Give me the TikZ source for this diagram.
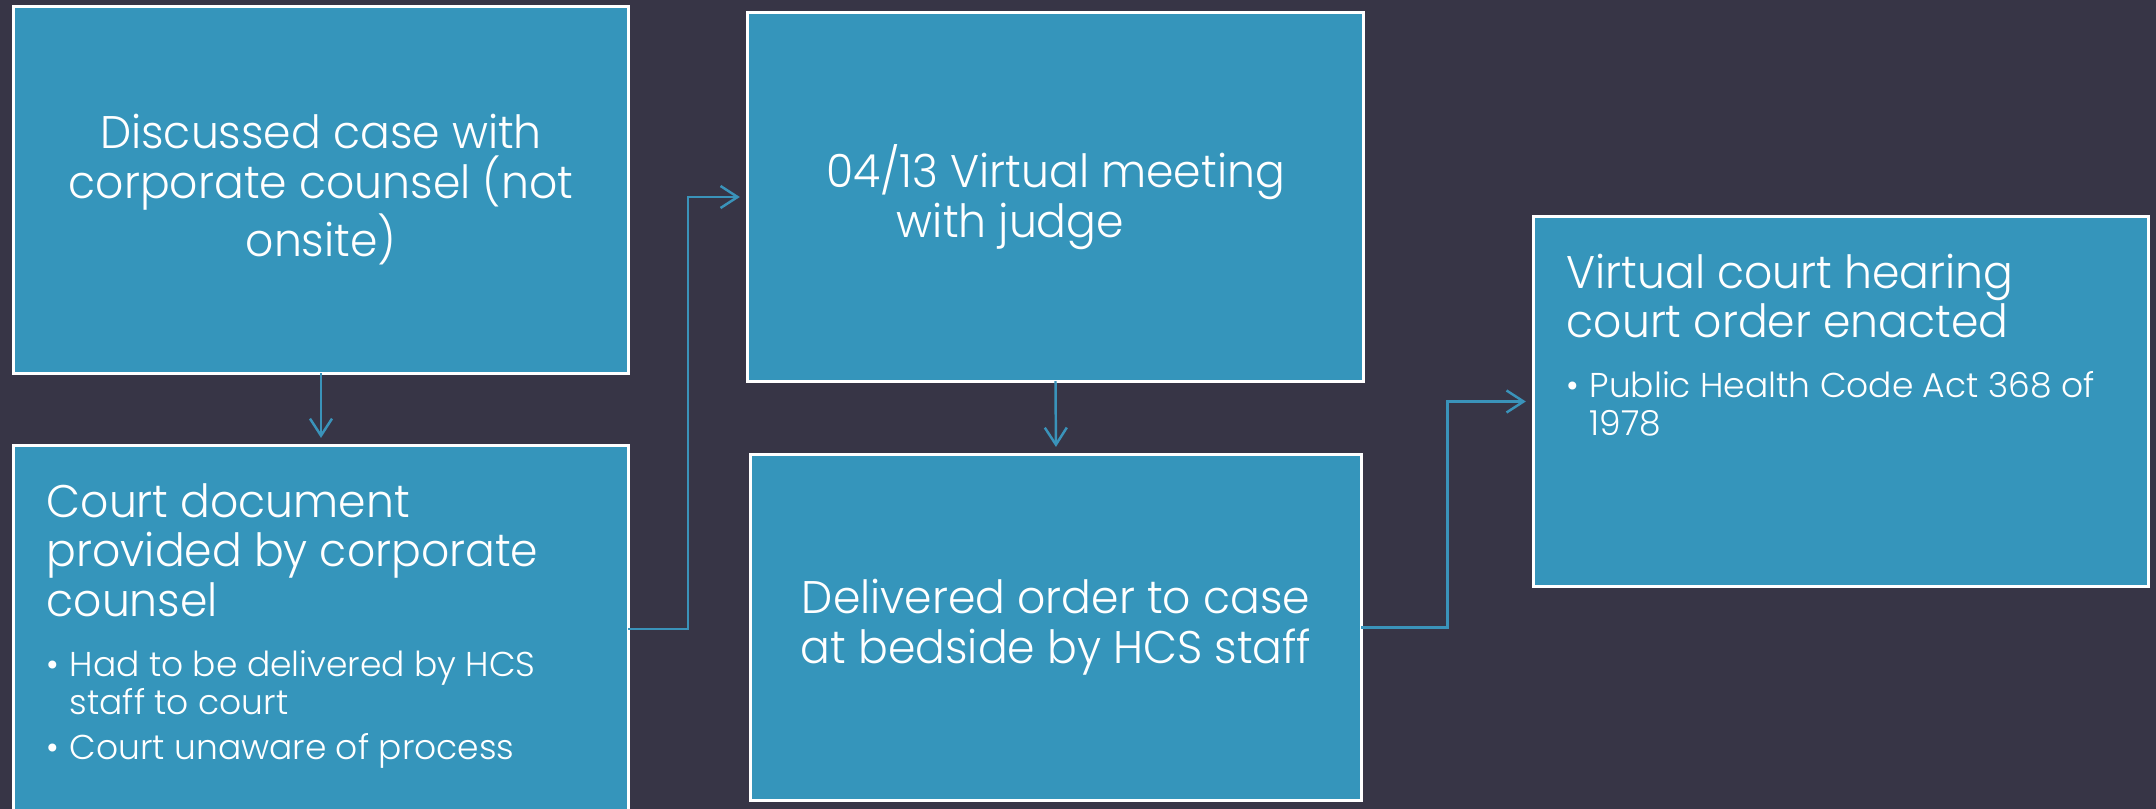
\documentclass[tikz,border=0pt]{standalone}
\usepackage{fontspec}
\setmainfont{Poppins}[UprightFont=* Light]
\newfontfamily\headfamily{Poppins}[UprightFont=* Light, FakeStretch=0.965]
\usetikzlibrary{arrows.meta,calc}
\definecolor{slidebg}{HTML}{373546}
\definecolor{cardblue}{HTML}{3595BB}
\definecolor{linkblue}{HTML}{3A93BA}
\newcommand{\headfont}{\headfamily\fontsize{13}{14.2}\selectfont}
\newcommand{\notefont}{\normalfont\fontsize{9.8}{10.8}\selectfont}
\newcommand{\noteitem}[1]{\par\noindent\hangindent=0.23cm\hangafter=1\makebox[0.23cm][l]{\textbullet}#1\par}
\tikzset{
  card/.style={draw=white, line width=0.9pt, fill=cardblue, inner sep=0pt, outer sep=0pt,
    minimum width=6.14cm, minimum height=3.66cm, text=white, font=\headfont},
  cardtext/.style={text=white, inner sep=0pt, align=flush left, text width=5.8cm, font=\headfont},
  link/.style={draw=linkblue, line width=0.7pt, -{Straight Barb[length=0.17cm,width=0.22cm]},
    shorten >=0.08cm}
}

\begin{document}
\begin{tikzpicture}[x=0.01cm, y=-0.01cm]
    \fill[slidebg] (0,0) rectangle (2156,809);
    \useasboundingbox (0,0) rectangle (2156,809);
    \clip (0,0) rectangle (2156,809);

    % boxes
    \node[card, align=center] (discuss) at (321,190) {Discussed case with\\corporate counsel (not\\onsite)};
    \node[card] (document) at (321,629) {};
    \node[card, align=center, minimum width=6.15cm, minimum height=3.68cm] (meeting) at (1055.5,197)
      {04/13 Virtual meeting\\with judge\hspace*{0.9cm}};
    \node[card, align=center, minimum width=6.10cm, minimum height=3.45cm] (deliver) at (1056,627.5)
      {Delivered order to case\\at bedside by HCS staff};
    \node[card, minimum height=3.69cm] (hearing) at (1841,401.5) {};

    % texts in the boxes
    \node[cardtext, anchor=base west] (documenttext) at (46,517) {Court document\\provided by corporate\\counsel\par
      \vspace{0.22cm}\notefont
      \noteitem{Had to be delivered by HCS\newline staff to court}\vspace{0.07cm}
      \noteitem{Court unaware of process}};
    \node[cardtext, anchor=base west] (hearingtext) at (1566,288) {Virtual court hearing\\court order enacted\par
      \vspace{0.22cm}\notefont
      \noteitem{Public Health Code Act 368 of\newline 1978}};

    % connectors
    \draw[link] (discuss.south) -- (document.north);
    \draw[link] (document.east) -| ($(document.east)!.5!(meeting.west)$) |- (meeting.west);
    \draw[link] (meeting.south) -- (deliver.north);
    \draw[link] (deliver.east) -| ($(deliver.east)!.5!(hearing.west)$) |- (hearing.west);
\end{tikzpicture}
\end{document}
